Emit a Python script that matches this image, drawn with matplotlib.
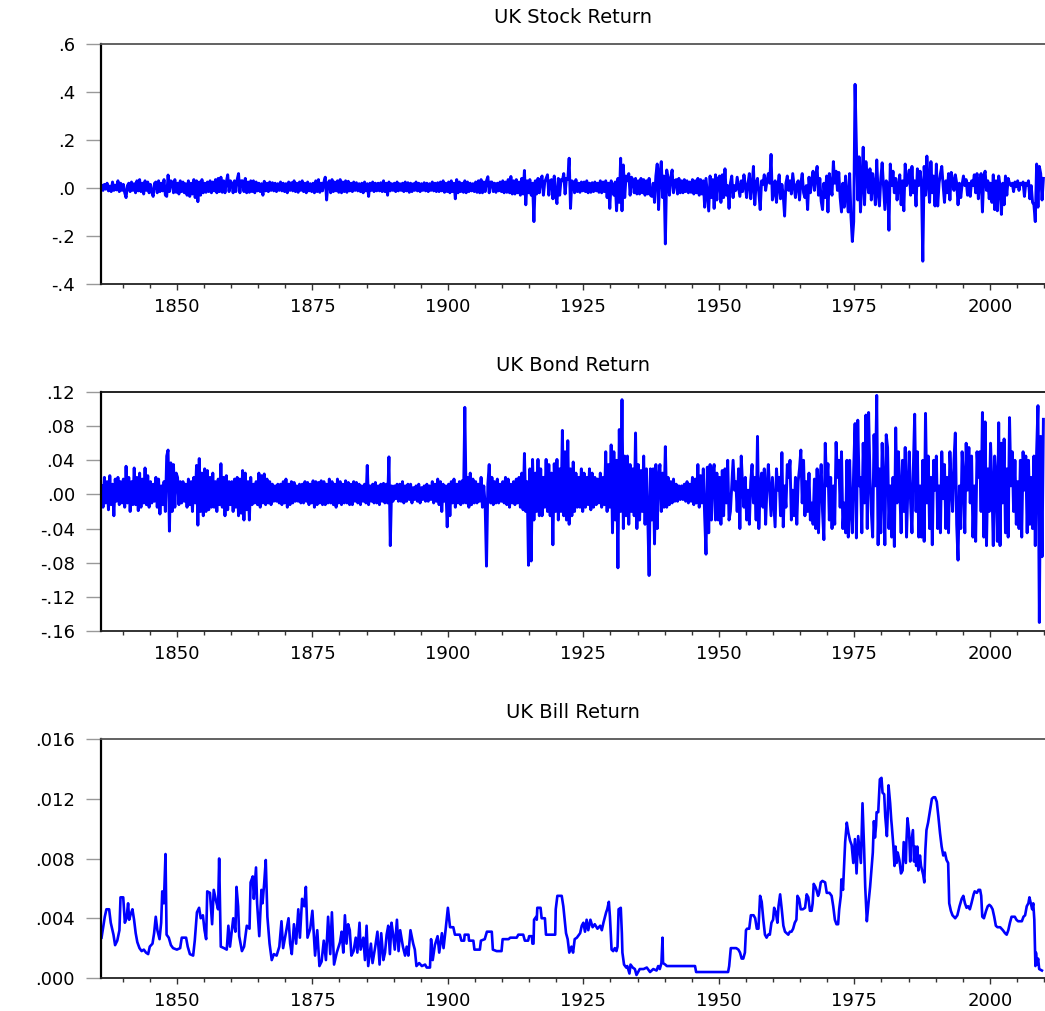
import numpy as np
import matplotlib
matplotlib.use("Agg")
import matplotlib.pyplot as plt
from matplotlib.ticker import FixedLocator, FixedFormatter, MultipleLocator

# ---------------- data ----------------
# UK stock return, quarterly readings, one row per year
stock_1836 = [
    .01, -.01, .015, -.005,
    .02, -.012, .008, -.015,
    .025, -.01, .012, -.008,
    .03, -.015, .02, -.01,
    .015, -.02, -.04, .01,
    .02, -.015, .025, -.01,
    .018, -.02, .03, -.012,
    .035, -.015, .02, -.025,
    .03, -.01, .025, -.02,
    .015, -.018, -.035, .02,
    .025, -.02, .03, -.015,
    .02, -.012, .035, -.03,
    -.035, .054, -.015, .03,
    .025, -.02, .035, -.018,
    .02, -.025, .03, -.015,
    .025, -.02, .018, -.03,
    .03, -.035, .02, -.025,
    .035, -.04, .03, -.057,
    .025, -.03, .035, -.02,
    .02, -.018, .025, -.015,
    .03, -.02, .025, -.012,
    .035, -.02, .04, -.015,
    .045, -.018, .03, -.02,
    .025, .055, -.015, .03,
    .02, -.02, .03, -.015,
    .035, .06, -.02, .03,
    .03, -.015, .04, -.02,
    .025, -.018, .03, -.015,
    .03, -.02, .025, -.012,
    .02, -.015, .018, -.03,
    .028, -.012, .02, -.015,
    .025, -.01, .022, -.012,
    .02, -.015, .018, -.01,
    .025, -.012, .02, -.015,
    .018, -.02, .025, -.01,
]
stock_1871 = [
    .022, -.012, .03, -.015,
    .02, -.018, .025, -.01,
    .03, -.015, .02, -.02,
    .025, -.012, .018, -.015,
    .02, -.02, .03, -.015,
    .035, -.018, .02, -.012,
    .025, .045, -.05, .02,
    .03, -.02, .035, -.015,
    .025, -.012, .03, -.018,
    .035, -.02, .025, -.015,
    .03, -.018, .028, -.012,
    .02, -.015, .025, -.01,
    .022, -.012, .018, -.015,
    .02, -.02, .025, -.012,
    .018, -.035, .02, -.01,
    .025, -.015, .02, -.012,
    .02, -.012, .022, -.015,
    .03, -.015, .02, -.03,
    .025, -.012, .018, -.01,
    .02, -.015, .025, -.012,
    .018, -.01, .02, -.015,
    .025, -.012, .022, -.018,
    .02, -.015, .018, -.01,
    .025, -.012, .02, -.015,
    .018, -.01, .022, -.012,
    .02, -.015, .018, -.01,
    .025, -.012, .02, -.015,
    .022, -.015, .025, -.012,
    .03, -.018, .02, -.015,
    .025, -.02, .03, -.015,
    .02, -.045, .035, -.02,
    .025, -.015, .02, -.018,
    .03, -.02, .025, -.015,
    .02, -.012, .018, -.015,
    .025, -.018, .03, -.02,
    .035, -.02, .025, -.015,
    .03, .047, -.02, .025,
    .025, -.015, .02, -.018,
    .02, -.012, .025, -.015,
    .03, -.02, .025, -.018,
]
stock_1911 = [
    .035, -.02, .048, -.025,
    .03, -.025, .035, -.02,
    .025, -.03, .04, -.025,
    .073, -.07, .03, -.02,
    .035, -.03, .02, -.14,
    .03, -.025, .04, -.02,
    .035, .05, -.03, .025,
    .04, .055, -.03, .03,
    .035, -.045, .05, -.03,
    -.065, .04, -.03, .035,
    .03, .06, -.025, .04,
    .035, .124, -.085, .03,
    .025, -.02, .035, -.015,
    .02, -.018, .025, -.012,
    .025, -.015, .03, -.02,
    .02, -.018, .022, -.015,
    .025, -.012, .02, -.018,
    .03, -.02, .025, -.015,
    .03, -.04, .02, -.085,
    .03, .01, -.03, .025,
    -.095, .04, -.06, .124,
    -.095, .096, -.04, .05,
    .03, .06, -.03, .045,
    .035, -.02, .04, -.025,
    .03, -.025, .04, -.02,
    .035, -.03, .03, -.025,
    .04, -.03, -.035, .02,
    -.06, .05, .1, -.09,
    .06, .11, -.04, .05,
    -.233, .075, .04, -.03,
    .045, .075, -.02, .03,
    .035, -.025, .04, -.02,
    .03, -.02, .035, -.015,
    .03, -.02, .025, -.018,
    .035, -.025, .03, -.02,
    .04, -.03, .035, -.025,
    .03, -.08, .04, -.03,
    -.096, .05, -.04, .035,
    -.085, .055, -.05, .04,
    .05, -.06, .055, -.04,
]
stock_1951 = [
    .08, -.03, .01, -.085,
    .02, .05, -.04, .01,
    -.01, .045, .005, -.035,
    .03, -.015, .055, .01,
    -.04, .02, .06, -.045,
    .01, .09, -.07, .02,
    .04, -.02, -.09, .03,
    .015, .055, -.01, .03,
    .06, .02, .14, -.05,
    -.02, .03, -.06, .01,
    .055, -.045, .015, -.03,
    -.117, .02, .05, -.01,
    .03, -.025, .06, .01,
    -.04, .015, .03, -.05,
    .02, .06, -.02, -.04,
    .01, -.09, .045, -.02,
    .035, .07, -.01, .05,
    .09, -.03, .04, -.055,
    -.09, .02, -.04, .05,
    -.1, .06, .01, -.03,
    .11, .02, .07, -.01,
    .065, -.04, -.1, .02,
    -.08, .05, -.03, -.1,
    .06, -.12, -.223, -.14,
    .432, .17, -.05, .13,
    -.1, .02, .17, -.07,
    .11, .03, -.02, .08,
    -.05, .06, .01, -.07,
    .117, -.02, -.075, .04,
    .105, .01, -.09, .03,
]
stock_1981 = [
    .02, -.176, .1, .01,
    .07, -.02, .04, -.05,
    .01, .055, -.07, .03,
    -.095, .1, .01, .03,
    .075, -.03, .09, -.02,
    .03, -.075, .08, .01,
    .07, .02, -.305, .09,
    -.03, .133, .02, -.06,
    .11, -.02, .05, -.075,
    .1, -.075, .02, .06,
    .09, .01, -.06, .03,
    -.02, .06, -.05, .065,
    .03, -.01, .055, .02,
    -.07, .02, -.04, .015,
    .05, .01, .035, -.03,
    .02, -.035, .03, .01,
    .055, -.02, .06, -.045,
    .03, .06, -.1, .05,
    .07, -.01, .03, -.045,
    .02, -.06, .055, -.09,
    .03, -.095, .05, .01,
    -.11, .02, -.07, .05,
    -.03, .04, .02, .01,
    .02, -.015, .025, .005,
    .03, -.01, .02, .015,
    .025, -.035, .02, .01,
    .03, -.045, .01, -.06,
    -.07, -.14, .1, -.08,
    .09, .06, -.05, .04,
]

# UK bond return, quarterly readings, one row per year
bond_1836 = [
    .01, -.015, .02, -.01,
    .015, -.018, .022, -.012,
    .012, -.025, .018, -.008,
    .02, -.012, .015, -.01,
    .018, -.015, .033, -.01,
    .02, -.02, .015, -.012,
    .031, -.012, .02, -.019,
    .025, -.015, .018, -.01,
    .031, -.012, .022, -.015,
    .015, -.01, .012, -.008,
    .02, -.015, .018, -.023,
    .01, -.012, .015, -.02,
    .045, .052, -.043, .037,
    -.02, .035, -.015, .025,
    .02, -.012, .015, -.01,
    .015, -.008, .012, -.015,
    .018, -.012, .015, -.02,
    .02, -.01, .034, -.036,
    .042, -.02, .025, -.025,
    .03, -.02, .028, -.018,
    .02, -.015, .025, -.015,
    .015, -.02, .018, -.012,
    .036, -.015, .02, -.025,
    .022, -.018, .015, -.012,
    .015, -.02, .018, -.015,
    .02, -.025, .018, -.022,
    .028, -.03, .025, -.018,
    .015, -.03, .02, -.012,
    .012, -.01, .015, -.012,
    .025, -.015, .022, -.01,
    .024, -.012, .018, -.01,
    .015, -.012, .012, -.008,
    .01, -.008, .012, -.01,
    .012, -.012, .015, -.01,
    .018, -.015, .012, -.012,
]
bond_1871 = [
    .015, -.01, .014, -.008,
    .01, -.008, .012, -.01,
    .012, -.01, .015, -.008,
    .014, -.012, .012, -.01,
    .016, -.015, .015, -.012,
    .014, -.01, .016, -.012,
    .015, -.012, .012, -.01,
    .018, -.01, .015, -.012,
    .012, -.015, .018, -.01,
    .015, -.012, .012, -.01,
    .016, -.01, .014, -.012,
    .012, -.012, .015, -.008,
    .014, -.01, .012, -.012,
    .01, -.008, .012, -.01,
    .034, -.012, .01, -.008,
    .012, -.01, .014, -.01,
    .01, -.012, .012, -.008,
    .013, -.01, .012, -.01,
    .044, -.06, .01, -.008,
    .01, -.005, .012, -.008,
    .012, -.008, .015, -.01,
    .01, -.008, .012, -.006,
    .012, -.01, .008, -.006,
    .01, -.008, .012, -.01,
    .008, -.006, .01, -.008,
    .012, -.008, .01, -.006,
    .015, -.01, .012, -.008,
    .018, -.012, .015, -.02,
    .012, -.008, .01, -.038,
    .012, -.025, .015, -.01,
    .018, -.015, .012, -.01,
    .015, -.012, .016, -.01,
    .102, -.01, .02, -.015,
    .025, -.012, .018, -.01,
    .015, -.01, .012, -.008,
    .02, -.015, .01, -.012,
    -.084, .012, .035, -.01,
    .02, -.012, .015, -.01,
    .018, -.01, .012, -.008,
    .015, -.01, .02, -.012,
]
bond_1911 = [
    .018, -.015, .012, -.01,
    .015, -.012, .018, -.01,
    .02, -.015, .025, -.018,
    .048, -.02, .015, -.083,
    .03, -.078, .041, -.03,
    .025, -.02, .041, -.025,
    .03, -.025, .02, -.015,
    .041, -.02, .035, -.025,
    .025, -.059, .036, -.02,
    .041, -.03, .03, -.02,
    .075, -.025, .05, -.03,
    .063, -.035, .03, -.025,
    .038, -.02, .025, -.015,
    .02, -.015, .03, -.02,
    .025, -.015, .02, -.012,
    .03, -.018, .025, -.015,
    .02, -.012, .018, -.01,
    .025, -.015, .02, -.012,
    .05, -.02, .035, -.015,
    .058, -.045, .05, -.03,
    .04, -.086, .076, -.02,
    .111, -.04, .045, -.025,
    .045, -.035, .035, -.02,
    .03, -.025, .072, -.04,
    .035, -.03, .028, -.02,
    .045, -.035, .03, -.025,
    -.095, .03, -.03, .03,
    -.058, .035, -.04, .02,
    .035, -.02, .025, -.015,
    .056, -.015, .02, -.012,
    .015, -.01, .018, -.008,
    .012, -.008, .01, -.006,
    .01, -.006, .012, -.008,
    .015, -.01, .012, -.008,
    .02, -.012, .018, -.01,
    .035, -.015, .022, -.01,
    .03, -.025, -.07, .032,
    -.045, .035, -.03, .025,
    .035, -.03, .025, -.03,
    .02, -.035, .028, -.025,
]
bond_1951 = [
    .03, -.01, .04, -.03,
    -.02, .01, .04, .005,
    .015, -.02, .03, -.04,
    .045, .01, -.015, .02,
    -.03, .005, -.035, .015,
    .035, -.01, .02, -.03,
    .068, -.04, .01, .025,
    -.015, .03, -.035, .01,
    .035, .005, -.025, .02,
    -.01, -.038, .03, .005,
    .02, -.025, .049, -.038,
    .01, -.015, .035, .02,
    .04, -.03, .005, -.025,
    .02, -.035, .015, .03,
    .052, -.01, .04, -.025,
    .015, -.02, .025, -.03,
    -.01, -.035, .018, -.04,
    .03, -.045, .01, .035,
    -.02, -.053, .06, .01,
    .036, -.03, .02, -.04,
    .01, -.035, .061, .02,
    .04, -.015, .05, -.04,
    -.01, -.045, .04, -.05,
    .04, -.02, -.045, .03,
    .083, -.051, .087, .01,
    .02, -.045, .06, -.01,
    .093, -.04, .096, .02,
    -.02, -.05, .07, .01,
    .116, -.059, .03, -.045,
    .06, .01, -.059, .07,
]
bond_1981 = [
    .055, -.04, .01, -.05,
    .02, -.061, .078, -.01,
    .05, .005, -.045, .04,
    -.02, .055, -.05, .01,
    .05, -.01, -.045, .03,
    .094, -.02, .05, -.05,
    .01, -.05, .04, -.055,
    .095, -.01, .045, -.04,
    .02, -.059, .04, .005,
    .045, -.04, .01, -.045,
    .05, -.005, .035, -.04,
    .02, -.045, .05, .01,
    -.02, .04, .072, -.035,
    -.077, .01, -.04, .05,
    .02, -.045, .06, .005,
    .055, -.01, .045, -.05,
    .01, -.055, .05, .02,
    .05, -.02, .096, -.05,
    .085, -.06, .03, -.02,
    .06, .01, -.06, .045,
    .02, -.055, .084, -.06,
    .06, -.01, .065, -.045,
    .03, -.05, .09, .01,
    .05, -.02, .04, -.035,
    .015, -.04, .04, -.05,
    .05, .005, .045, -.045,
    .04, -.035, .02, -.04,
    .045, -.06, .05, .104,
    -.15, .068, -.073, .088,
]

# UK bill return, (year, value) readings
bill_early = [
    (1836.1, .0027), (1836.7, .0041), (1837.0, .0046), (1837.5, .0046), (1837.8, .0037),
    (1838.3, .0029), (1838.6, .0022), (1839.0, .0025), (1839.4, .0032), (1839.6, .0054),
    (1840.1, .0054), (1840.4, .0037), (1840.7, .0040), (1841.0, .0050), (1841.2, .0039),
    (1841.5, .0043), (1841.8, .0046), (1842.1, .0039), (1842.4, .0030), (1842.7, .0024),
    (1843.1, .0020), (1843.5, .0018), (1843.9, .0019), (1844.3, .0017), (1844.7, .0016),
    (1845.0, .0021), (1845.5, .0023), (1845.8, .0030), (1846.1, .0041), (1846.4, .0032),
    (1846.8, .0026), (1847.1, .0037), (1847.3, .0058), (1847.6, .0050), (1847.9, .0083),
    (1848.1, .0029), (1848.5, .0027), (1848.9, .0022), (1849.3, .0020), (1850.0, .0019),
    (1850.6, .0020), (1850.9, .0027), (1851.7, .0027), (1852.0, .0021), (1852.4, .0016),
    (1853.0, .0015), (1853.3, .0025), (1853.7, .0044), (1854.1, .0047), (1854.4, .0040),
    (1854.8, .0042), (1855.1, .0032), (1855.4, .0026), (1855.6, .0058), (1856.1, .0057),
    (1856.5, .0036), (1856.8, .0059), (1857.2, .0052), (1857.6, .0046), (1857.8, .0080),
    (1858.1, .0021), (1858.7, .0020), (1859.2, .0019), (1859.5, .0035), (1859.8, .0021),
    (1860.4, .0040), (1860.8, .0031), (1861.0, .0061), (1861.3, .0048), (1861.5, .0028),
    (1862.0, .0018), (1862.4, .0021), (1862.9, .0035), (1863.4, .0033), (1863.6, .0064),
    (1864.0, .0068), (1864.2, .0053), (1864.6, .0074), (1864.8, .0050), (1865.2, .0028),
    (1865.6, .0059), (1865.8, .0050), (1866.1, .0063), (1866.4, .0079), (1866.7, .0041),
    (1867.1, .0023), (1867.5, .0012), (1867.9, .0016), (1868.4, .0015), (1868.9, .0021),
    (1869.3, .0038), (1869.6, .0020), (1870.1, .0030), (1870.6, .0040), (1870.9, .0023),
    (1871.2, .0016), (1871.6, .0036), (1872.0, .0023), (1872.4, .0046), (1872.7, .0027),
    (1873.1, .0053), (1873.5, .0048), (1873.8, .0061), (1874.1, .0027), (1874.6, .0033),
    (1875.0, .0045), (1875.5, .0015), (1875.9, .0032), (1876.3, .0008), (1876.7, .0011),
    (1877.1, .0025), (1877.5, .0012), (1877.9, .0041), (1878.3, .0016), (1878.6, .0044),
    (1879.0, .0009), (1879.5, .0017), (1880.1, .0024), (1880.4, .0031), (1880.7, .0017),
    (1881.0, .0042), (1881.3, .0023), (1881.6, .0036), (1881.9, .0032), (1882.2, .0015),
    (1882.6, .0018), (1883.0, .0027), (1883.3, .0017), (1883.7, .0037), (1883.9, .0019),
    (1884.4, .0027), (1884.7, .0012), (1885.0, .0035), (1885.3, .0008), (1885.8, .0023),
    (1886.1, .0010), (1886.6, .0021), (1887.0, .0031), (1887.4, .0009), (1887.7, .0030),
    (1888.1, .0012), (1888.4, .0017), (1888.7, .0029), (1889.0, .0035), (1889.3, .0016),
    (1889.6, .0037), (1889.9, .0029), (1890.2, .0019), (1890.6, .0039), (1890.9, .0018),
    (1891.2, .0032), (1891.7, .0021), (1892.1, .0015), (1892.4, .0021), (1892.7, .0015),
    (1893.1, .0032), (1893.6, .0023), (1893.9, .0019), (1894.2, .0008), (1894.7, .0010),
    (1895.2, .0008), (1895.8, .0009), (1896.1, .0007), (1896.7, .0007), (1896.9, .0026),
    (1897.2, .0012), (1897.6, .0022), (1898.1, .0028), (1898.4, .0017), (1898.9, .0030),
    (1899.2, .0020), (1899.6, .0033), (1900.0, .0047), (1900.4, .0034), (1901.0, .0034),
    (1901.3, .0029), (1902.2, .0029), (1902.5, .0025), (1903.0, .0025), (1903.1, .0029),
    (1903.8, .0029), (1903.9, .0025), (1904.7, .0025), (1904.9, .0019), (1905.9, .0019),
    (1906.1, .0025), (1906.8, .0026), (1907.2, .0031), (1908.1, .0031), (1908.3, .0019),
    (1909.0, .0018), (1909.9, .0018), (1910.1, .0026), (1911.2, .0026), (1911.5, .0027),
    (1912.7, .0027), (1913.0, .0029),
]
bill_late = [
    (1913.3, .0029), (1913.9, .0029), (1914.2, .0025), (1914.8, .0025), (1915.0, .0028),
    (1915.5, .0028), (1915.6, .0023), (1915.8, .0023), (1915.9, .0039), (1916.3, .0041),
    (1916.4, .0039), (1916.5, .0047), (1917.1, .0047), (1917.3, .0040), (1917.9, .0040),
    (1918.1, .0029), (1919.8, .0029), (1919.9, .0046), (1920.2, .0055), (1921.0, .0055),
    (1921.3, .0048), (1921.8, .0030), (1922.1, .0026), (1922.4, .0017), (1922.8, .0021),
    (1923.1, .0017), (1923.4, .0026), (1923.8, .0027), (1924.4, .0030), (1924.7, .0035),
    (1925.0, .0037), (1925.3, .0031), (1925.6, .0039), (1925.9, .0032), (1926.3, .0039),
    (1926.7, .0034), (1927.1, .0036), (1927.6, .0033), (1928.1, .0035), (1928.4, .0032),
    (1928.7, .0037), (1929.2, .0044), (1929.4, .0046), (1929.7, .0051), (1929.9, .0041),
    (1930.2, .0019), (1930.5, .0018), (1930.8, .0020), (1931.1, .0018), (1931.3, .0021),
    (1931.5, .0046), (1931.9, .0047), (1932.1, .0030), (1932.2, .0017), (1932.5, .0009),
    (1932.9, .0007), (1933.1, .0008), (1933.5, .0003), (1933.7, .0009), (1934.1, .0007),
    (1934.5, .0006), (1934.8, .0002), (1935.1, .0004), (1935.4, .0006), (1936.1, .0006),
    (1936.7, .0007), (1937.3, .0004), (1937.9, .0006), (1938.5, .0005), (1938.8, .0008),
    (1939.1, .0006), (1939.4, .0010), (1939.6, .0027), (1939.7, .0010), (1940.1, .0009),
    (1940.4, .0008), (1945.6, .0008), (1945.8, .0004), (1951.7, .0004), (1951.9, .0008),
    (1952.2, .0020), (1953.2, .0020), (1953.6, .0019), (1953.9, .0017), (1954.2, .0013),
    (1954.5, .0013), (1954.8, .0017), (1955.0, .0032), (1955.2, .0033), (1955.6, .0033),
    (1955.9, .0042), (1956.4, .0042), (1956.7, .0040), (1957.0, .0033), (1957.3, .0033),
    (1957.6, .0055), (1957.9, .0051), (1958.2, .0039), (1958.5, .0029), (1958.8, .0027),
    (1959.1, .0029), (1959.4, .0029), (1959.7, .0037), (1960.0, .0039), (1960.2, .0047),
    (1960.5, .0044), (1960.8, .0037), (1961.0, .0048), (1961.3, .0056), (1961.6, .0046),
    (1961.9, .0035), (1962.2, .0031), (1962.5, .0030), (1962.8, .0029), (1963.1, .0031),
    (1963.4, .0031), (1963.7, .0033), (1964.0, .0037), (1964.3, .0039), (1964.5, .0055),
    (1964.8, .0053), (1965.1, .0046), (1965.5, .0046), (1965.9, .0047), (1966.2, .0056),
    (1966.5, .0054), (1966.8, .0045), (1967.1, .0045), (1967.3, .0050), (1967.5, .0063),
    (1967.8, .0061), (1968.0, .0059), (1968.3, .0055), (1968.5, .0057), (1968.8, .0064),
    (1969.1, .0065), (1969.6, .0064), (1969.9, .0057), (1970.4, .0057), (1970.8, .0055),
    (1971.1, .0048), (1971.4, .0039), (1971.7, .0036), (1972.0, .0036), (1972.2, .0046),
    (1972.5, .0055), (1972.6, .0066), (1972.9, .0059), (1973.3, .0091), (1973.6, .0104),
    (1973.9, .0097), (1974.2, .0092), (1974.5, .0089), (1974.8, .0077), (1975.1, .0093),
    (1975.4, .0070), (1975.7, .0095), (1976.2, .0077), (1976.5, .0117), (1976.8, .0086),
    (1977.0, .0061), (1977.3, .0038), (1977.6, .0050), (1977.9, .0061), (1978.2, .0075),
    (1978.4, .0084), (1978.6, .0105), (1978.8, .0094), (1979.0, .0102), (1979.1, .0111),
    (1979.4, .0111), (1979.7, .0133), (1980.0, .0134), (1980.2, .0124), (1980.5, .0123),
    (1980.7, .0108), (1981.0, .0095), (1981.1, .0104), (1981.3, .0129), (1981.6, .0117),
    (1981.8, .0106), (1981.9, .0102), (1982.2, .0088), (1982.4, .0075), (1982.6, .0088),
    (1982.8, .0077), (1983.0, .0084), (1983.3, .0079), (1983.6, .0070), (1983.9, .0072),
    (1984.1, .0091), (1984.5, .0077), (1984.6, .0091), (1984.8, .0107), (1985.1, .0097),
    (1985.3, .0078), (1985.4, .0088), (1985.8, .0099), (1986.0, .0078), (1986.2, .0088),
    (1986.4, .0075), (1986.6, .0088), (1986.8, .0072), (1987.1, .0082), (1987.3, .0075),
    (1987.5, .0072), (1987.7, .0069), (1987.9, .0064), (1988.1, .0086), (1988.3, .0099),
    (1988.6, .0104), (1988.9, .0111), (1989.3, .0120), (1989.6, .0121), (1989.9, .0121),
    (1990.2, .0118), (1990.5, .0108), (1990.8, .0097), (1991.1, .0088), (1991.4, .0082),
    (1991.7, .0084), (1992.0, .0079), (1992.3, .0077), (1992.5, .0050), (1992.8, .0045),
    (1993.1, .0042), (1993.6, .0040), (1994.0, .0042), (1994.4, .0048), (1994.8, .0053),
    (1995.1, .0055), (1995.4, .0050), (1995.7, .0047), (1996.0, .0048), (1996.3, .0046),
    (1996.6, .0050), (1997.0, .0056), (1997.2, .0058), (1997.6, .0057), (1997.9, .0059),
    (1998.2, .0059), (1998.4, .0055), (1998.6, .0041), (1998.9, .0040), (1999.3, .0045),
    (1999.6, .0048), (1999.9, .0049), (2000.2, .0048), (2000.5, .0046), (2000.8, .0041),
    (2001.1, .0035), (2001.4, .0034), (2001.9, .0034), (2002.4, .0032), (2002.8, .0030),
    (2003.1, .0029), (2003.4, .0032), (2003.7, .0037), (2004.0, .0041), (2004.6, .0041),
    (2004.9, .0039), (2005.2, .0038), (2005.9, .0038), (2006.2, .0041), (2006.5, .0042),
    (2006.8, .0048), (2007.1, .0050), (2007.3, .0054), (2007.6, .0049), (2007.8, .0046),
    (2008.0, .0050), (2008.2, .0039), (2008.4, .0008), (2008.5, .0017), (2008.7, .0009),
    (2008.9, .0013), (2009.1, .0006), (2009.6, .0005),
]

titles = ["UK Stock Return", "UK Bond Return", "UK Bill Return"]
stock_ticks = [-.4, -.2, 0, .2, .4, .6]
stock_labels = ["-.4", "-.2", ".0", ".2", ".4", ".6"]
bond_ticks = [-.16, -.12, -.08, -.04, 0, .04, .08, .12]
bond_labels = ["-.16", "-.12", "-.08", "-.04", ".00", ".04", ".08", ".12"]
bill_ticks = [0, .004, .008, .012, .016]
bill_labels = [".000", ".004", ".008", ".012", ".016"]


def quarterly(start, vals):
    return start + (np.arange(len(vals)) + 0.5) / 4.0


def join(parts):
    xs = np.concatenate([quarterly(s, v) for s, v in parts])
    ys = np.concatenate([np.asarray(v, float) for s, v in parts])
    return xs, ys


stock_x, stock_y = join([(1836, stock_1836), (1871, stock_1871), (1911, stock_1911),
                         (1951, stock_1951), (1981, stock_1981)])
bond_x, bond_y = join([(1836, bond_1836), (1871, bond_1871), (1911, bond_1911),
                       (1951, bond_1951), (1981, bond_1981)])
bill = np.array(bill_early + bill_late)
bill_x, bill_y = bill[:, 0], bill[:, 1]

# ---------------- figure ----------------
plt.rcParams['font.family'] = ['DejaVu Sans']
W, H = 1045, 1011
fig = plt.figure(figsize=(W / 100, H / 100), dpi=100)

panels = [
    (44, 284, stock_x, stock_y, (-.4, .6), stock_ticks, stock_labels, 2.1),
    (392, 631, bond_x, bond_y, (-.16, .12), bond_ticks, bond_labels, 2.1),
    (739, 978, bill_x, bill_y, (0, .016), bill_ticks, bill_labels, 1.9),
]
top_colors = ['#555555', '#111111', '#555555']

for i, (top, bot, x, y, ylim, yt, yl, lw) in enumerate(panels):
    ax = fig.add_axes([101 / W, 1 - bot / H, (W - 101) / W, (bot - top) / H])
    ax.plot(x, y, color='#0000ff', lw=lw, solid_joinstyle='round')
    ax.set_xlim(1836, 2010.17)
    ax.set_ylim(*ylim)
    ax.yaxis.set_major_locator(FixedLocator(yt))
    ax.yaxis.set_major_formatter(FixedFormatter(yl))
    ax.xaxis.set_major_locator(MultipleLocator(25))
    ax.xaxis.set_minor_locator(MultipleLocator(5))
    ax.spines['right'].set_visible(False)
    ax.spines['left'].set_color('black')
    ax.spines['left'].set_linewidth(1.6)
    ax.spines['bottom'].set_color('#222222')
    ax.spines['bottom'].set_linewidth(1.3)
    ax.spines['top'].set_color(top_colors[i])
    ax.spines['top'].set_linewidth(1.3)
    ax.tick_params(axis='y', direction='out', length=10.8, width=1.0,
                   color='#999999', pad=8, labelsize=13, right=False)
    ax.tick_params(axis='x', which='major', direction='out', length=4.5, width=1.0,
                   color='#333333', pad=5.5, labelsize=13, top=False)
    ax.tick_params(axis='x', which='minor', direction='out', length=3.2, width=1.0,
                   color='#333333', top=False)
    ax.set_title(titles[i], fontsize=14, pad=15)

fig.savefig('out.png', dpi=100)
